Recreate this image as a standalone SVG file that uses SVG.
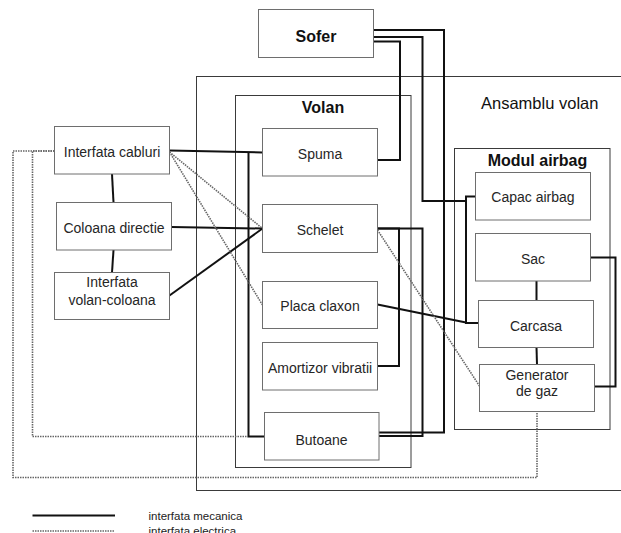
<svg xmlns="http://www.w3.org/2000/svg" width="621" height="533" viewBox="0 0 621 533">
  <style>
    .bg { fill: #ffffff; }
    .box { fill: #ffffff; stroke: #6e6e6e; stroke-width: 1; }
    .frame { fill: none; stroke: #3a3a3a; stroke-width: 1; }
    .lbl { font-family: "Liberation Sans", Arial, sans-serif; font-size: 14px; fill: #262626; text-anchor: middle; }
    .head { font-family: "Liberation Sans", Arial, sans-serif; font-size: 16px; font-weight: bold; fill: #111111; text-anchor: middle; }
    .title { font-family: "Liberation Sans", Arial, sans-serif; font-size: 16.5px; fill: #111111; }
    .legend { font-family: "Liberation Sans", Arial, sans-serif; font-size: 11.5px; fill: #222222; }
    .mech { fill: none; stroke: #111111; stroke-width: 2; stroke-linejoin: miter; }
    .elec { fill: none; stroke: #666666; stroke-width: 1.6; stroke-dasharray: 1.5 1; }
  </style>

  <rect class="bg" x="0" y="0" width="621" height="533"/>

  <!-- containers -->
  <g id="ansamblu-volan">
    <rect class="frame" x="196.5" y="76.5" width="440" height="414"/>
    <text class="title" x="481" y="108.5">Ansamblu volan</text>
  </g>
  <g id="volan">
    <rect class="frame" x="235.5" y="95.5" width="175.5" height="372"/>
    <text class="head" x="323" y="112.5">Volan</text>
  </g>
  <g id="modul-airbag">
    <rect class="frame" x="454.5" y="148.5" width="155.5" height="281"/>
    <text class="head" x="537.5" y="165.5">Modul airbag</text>
  </g>

  <!-- connectors -->
  <g id="connectors">
    <!-- mechanical interfaces -->
    <path class="mech" d="M373.5,30 H444 V432.5 H379"/>
    <path class="mech" d="M373.5,37 H422.5 V201 H466"/>
    <path class="mech" d="M373.5,41.5 H400 V160 H377.5"/>
    <path class="mech" d="M475.5,196.5 H466 V323 H478.5"/>
    <path class="mech" d="M377.5,304.5 L466,322.5"/>
    <path class="mech" d="M169.5,150.5 L262.5,152.5"/>
    <path class="mech" d="M248.5,152.2 V436.5 H264.5"/>
    <path class="mech" d="M112,174 L113.5,202.5"/>
    <path class="mech" d="M113.5,250 L112,272.5"/>
    <path class="mech" d="M171.5,227 L262.5,228.5"/>
    <path class="mech" d="M169.5,295.5 L262.5,228.5"/>
    <path class="mech" d="M377.5,228.5 H399 V366 H377.5"/>
    <path class="mech" d="M377.5,228.5 H422.5 V436 H379"/>
    <path class="mech" d="M590.5,257.5 H615.5 V386.5 H594.5"/>
    <path class="mech" d="M536.5,281 L536.5,300.5"/>
    <path class="mech" d="M536.5,347.5 L537,364.5"/>
    <!-- electrical interfaces -->
    <path class="elec" d="M169.5,152 L262.5,228.5"/>
    <path class="elec" d="M169.5,152 L262.5,305"/>
    <path class="elec" d="M377.5,230 L479.5,386"/>
    <path class="elec" d="M54.5,151 H13 V477.5 H537 V411.5"/>
    <path class="elec" d="M54.5,151 H32.5 V436.5 H248"/>
  </g>

  <!-- nodes -->
  <g id="sofer">
    <rect class="box" x="258.5" y="9.5" width="115" height="48"/>
    <text class="head" x="316" y="41.5">Sofer</text>
  </g>
  <g id="interfata-cabluri">
    <rect class="box" x="54.5" y="126.5" width="115" height="47.5"/>
    <text class="lbl" x="112" y="156.5">Interfata cabluri</text>
  </g>
  <g id="coloana-directie">
    <rect class="box" x="56.5" y="202.5" width="115" height="47.5"/>
    <text class="lbl" x="114" y="232.5">Coloana directie</text>
  </g>
  <g id="interfata-volan-coloana">
    <rect class="box" x="54.5" y="272.5" width="115" height="47"/>
    <text class="lbl" x="112" y="287">Interfata</text>
    <text class="lbl" x="112" y="304.5">volan-coloana</text>
  </g>
  <g id="spuma">
    <rect class="box" x="262.5" y="128.5" width="115" height="47.5"/>
    <text class="lbl" x="320" y="158.5">Spuma</text>
  </g>
  <g id="schelet">
    <rect class="box" x="262.5" y="204.5" width="115" height="48"/>
    <text class="lbl" x="320" y="234.5">Schelet</text>
  </g>
  <g id="placa-claxon">
    <rect class="box" x="262.5" y="281.5" width="115" height="47"/>
    <text class="lbl" x="320" y="311">Placa claxon</text>
  </g>
  <g id="amortizor-vibratii">
    <rect class="box" x="262.5" y="342.5" width="115" height="47.5"/>
    <text class="lbl" x="320" y="372.5">Amortizor vibratii</text>
  </g>
  <g id="butoane">
    <rect class="box" x="264.5" y="412.5" width="114.5" height="47.5"/>
    <text class="lbl" x="321.5" y="445">Butoane</text>
  </g>
  <g id="capac-airbag">
    <rect class="box" x="475.5" y="172.5" width="115" height="47.5"/>
    <text class="lbl" x="533" y="202">Capac airbag</text>
  </g>
  <g id="sac">
    <rect class="box" x="475.5" y="233.5" width="115" height="47.5"/>
    <text class="lbl" x="533" y="264">Sac</text>
  </g>
  <g id="carcasa">
    <rect class="box" x="478.5" y="300.5" width="115" height="47"/>
    <text class="lbl" x="536" y="330.5">Carcasa</text>
  </g>
  <g id="generator-de-gaz">
    <rect class="box" x="479.5" y="364.5" width="115" height="47"/>
    <text class="lbl" x="537" y="379.5">Generator</text>
    <text class="lbl" x="537" y="396">de gaz</text>
  </g>

  <!-- legend -->
  <g id="legend">
    <path class="mech" d="M32.5,515.5 H115"/>
    <path class="elec" d="M32.5,531 H115"/>
    <text class="legend" x="148.5" y="519.5">interfata mecanica</text>
    <text class="legend" x="148.5" y="535">interfata electrica</text>
  </g>
</svg>
